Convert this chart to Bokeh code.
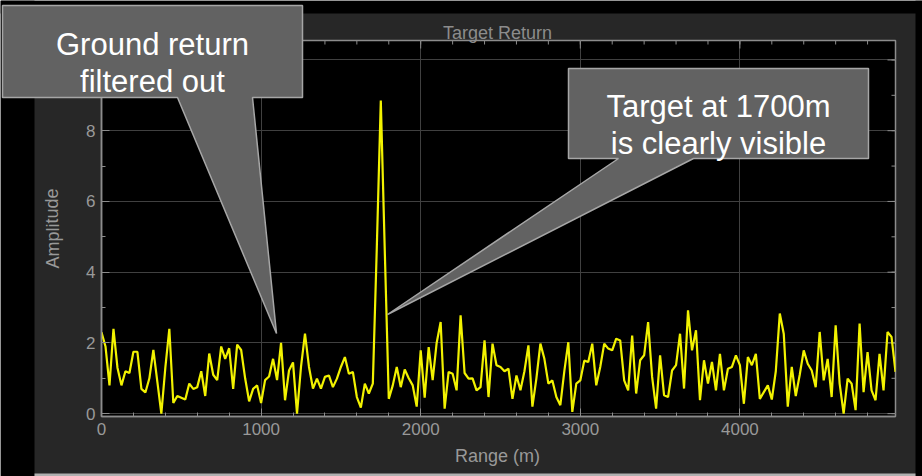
from bokeh.plotting import figure
from bokeh.models import FixedTicker, Range1d
from bokeh.core.properties import value
from bokeh.embed import file_html
from bokeh.resources import INLINE

# Matched-filter output after ground-clutter removal, one value per 25 m range bin
amplitude = [
    2.30, 1.90, 0.80, 2.40, 1.30, 0.80, 1.20, 1.15, 1.75, 1.75,
    0.70, 0.60, 1.00, 1.80, 0.90, 0.00, 1.30, 2.40, 0.30, 0.50,
    0.45, 0.40, 0.85, 0.70, 0.75, 1.20, 0.50, 1.70, 1.10, 0.95,
    1.90, 1.55, 1.85, 0.70, 1.95, 1.80, 1.00, 0.35, 0.70, 0.80,
    0.30, 0.95, 1.05, 1.55, 0.95, 2.00, 0.38, 1.22, 1.45, 0.00,
    1.32, 2.26, 1.32, 0.71, 0.99, 0.71, 1.04, 1.08, 0.75, 0.99,
    1.32, 1.60, 1.13, 1.18, 0.47, 0.17, 0.85, 0.57, 0.85, 4.70,
    8.85, 4.60, 0.42, 0.80, 1.32, 0.75, 1.25, 1.00, 0.80, 0.20,
    1.79, 0.45, 1.88, 0.95, 2.00, 2.59, 0.14, 1.18, 1.13, 0.66,
    2.78, 1.15, 0.99, 1.00, 0.66, 0.75, 2.07, 0.47, 1.98, 1.37,
    1.32, 1.20, 1.27, 0.42, 1.08, 0.66, 1.20, 1.93, 0.20, 1.00,
    1.98, 1.55, 0.85, 0.94, 0.47, 0.24, 1.20, 2.02, 0.05, 0.85,
    0.94, 1.50, 1.46, 1.98, 0.80, 1.32, 1.98, 1.84, 1.79, 2.12,
    2.07, 0.94, 0.66, 2.21, 0.57, 1.51, 1.65, 2.59, 1.04, 0.14,
    1.65, 0.52, 0.47, 1.22, 1.37, 2.26, 0.71, 2.92, 1.79, 2.36,
    0.38, 1.51, 0.85, 1.46, 0.66, 1.69, 0.66, 1.27, 1.32, 1.65,
    1.37, 0.28, 1.60, 1.37, 1.69, 0.42, 0.61, 0.80, 0.40, 1.20,
    2.83, 2.25, 0.20, 1.32, 0.50, 1.10, 1.79, 1.41, 1.22, 0.75,
    2.31, 0.94, 1.55, 0.47, 2.50, 0.85, 0.00, 0.99, 0.85, 0.10,
    2.55, 0.61, 1.74, 0.66, 0.38, 1.69, 0.66, 2.31, 2.17, 1.18,
]
BIN_M = 25
range_m = [i * BIN_M for i in range(len(amplitude))]

x_major_ticks = [0, 1000, 2000, 3000, 4000]
x_minor_ticks = list(range(0, 5000, 200))
y_major_ticks = [0, 2, 4, 6, 8, 10]
y_minor_ticks = list(range(0, 11))

title_text = "Target Return"
x_label_text = "Range (m)"
y_label_text = "Amplitude"
ground_note = ["Ground return", "filtered out"]
target_note = ["Target at 1700m", "is clearly visible"]

FONT = "Liberation Sans"
PANEL = "#272727"
AXIS_GREY = "#8c8c8c"
TEXT_GREY = "#999999"
GRID_GREY = "#404040"
CALLOUT_FILL = "#626262"
CALLOUT_EDGE = "#a6a6a6"

W, H = 922, 476
FRAME_L, FRAME_R, FRAME_T, FRAME_B = 101, 895, 40, 416
X_RANGE = (0, range_m[-1])
Y_RANGE = (-0.08, 10.55)
MAJOR_TICK, MINOR_TICK = 8, 4

# ---------------------------------------------------------------- chart
p = figure(width=W, height=H, output_backend="svg", toolbar_location=None,
           x_range=Range1d(*X_RANGE), y_range=Range1d(*Y_RANGE),
           min_border_left=FRAME_L, min_border_right=W - FRAME_R,
           min_border_top=FRAME_T, min_border_bottom=H - FRAME_B,
           background_fill_color="black", border_fill_color=PANEL,
           outline_line_color=AXIS_GREY, outline_line_width=1.5,
           styles={"position": "absolute", "left": "0px", "top": "0px"})

p.xgrid.ticker = FixedTicker(ticks=x_major_ticks)
p.ygrid.ticker = FixedTicker(ticks=y_major_ticks)
p.xgrid.grid_line_color = GRID_GREY
p.ygrid.grid_line_color = GRID_GREY

for ax, ticks, minor in [(p.xaxis[0], x_major_ticks, x_minor_ticks),
                         (p.yaxis[0], y_major_ticks, y_minor_ticks)]:
    ax.ticker = FixedTicker(ticks=ticks, minor_ticks=minor)
    ax.axis_line_color = AXIS_GREY
    ax.axis_line_width = 1.5
    ax.major_tick_line_color = AXIS_GREY
    ax.minor_tick_line_color = AXIS_GREY
    ax.major_tick_in = MAJOR_TICK
    ax.major_tick_out = 0
    ax.minor_tick_in = MINOR_TICK
    ax.minor_tick_out = 0
    ax.major_label_text_font = FONT
    ax.major_label_text_color = TEXT_GREY
    ax.major_label_text_font_size = "17px"
    ax.major_label_standoff = 6

# mirrored inward ticks along the top and right edges of the frame
px_per_y = (FRAME_B - FRAME_T) / (Y_RANGE[1] - Y_RANGE[0])
px_per_x = (FRAME_R - FRAME_L) / (X_RANGE[1] - X_RANGE[0])
y_top, x_right = Y_RANGE[1], X_RANGE[1]
for ticks, size in [(x_major_ticks, MAJOR_TICK), (x_minor_ticks, MINOR_TICK)]:
    p.segment(x0=ticks, x1=ticks, y0=[y_top] * len(ticks),
              y1=[y_top - size / px_per_y] * len(ticks),
              line_color=AXIS_GREY, line_width=1)
for ticks, size in [(y_major_ticks, MAJOR_TICK), (y_minor_ticks, MINOR_TICK)]:
    p.segment(x0=[x_right] * len(ticks), x1=[x_right - size / px_per_x] * len(ticks),
              y0=ticks, y1=ticks, line_color=AXIS_GREY, line_width=1)

p.line(range_m, amplitude, line_color="#f2f200", line_width=2.2)

# ------------------------------------------- panel surround, labels, callouts
# Drawn on a transparent canvas laid over the chart, in pixel coordinates.
o = figure(width=W, height=H, output_backend="svg", toolbar_location=None,
           x_range=Range1d(0, W), y_range=Range1d(H, 0),
           x_axis_location=None, y_axis_location=None, min_border=0,
           min_border_left=0, min_border_right=0, min_border_top=0,
           min_border_bottom=0, background_fill_color=None,
           border_fill_color=None, outline_line_color=None,
           styles={"position": "absolute", "left": "0px", "top": "0px"})
o.grid.visible = False

o.quad(left=[0, 915, 0], right=[34, W, W], top=[0, 0, 0], bottom=[H, H, 13],
       fill_color="black", line_color=None)
o.quad(left=[34], right=[915], top=[473], bottom=[H],
       fill_color="#b0b0b0", line_color=None)

o.text(x=[497], y=[32], text=[title_text], text_font=value(FONT),
       text_font_size="18px", text_color=AXIS_GREY, text_align="center",
       text_baseline="alphabetic")
o.text(x=[497], y=[455], text=[x_label_text], text_font=value(FONT),
       text_font_size="18px", text_color=TEXT_GREY, text_align="center",
       text_baseline="middle")
o.text(x=[52], y=[228], text=[y_label_text], text_font=value(FONT),
       text_font_size="18px", text_color=TEXT_GREY, text_align="center",
       text_baseline="middle", angle=1.5708)

callout_xs = [[2, 302, 302, 252, 276, 177, 2],
              [568, 868, 868, 693, 387, 618, 568]]
callout_ys = [[5, 5, 97, 97, 333, 97, 97],
              [68, 68, 158, 158, 314, 158, 158]]
o.patches(callout_xs, callout_ys, fill_color=CALLOUT_FILL, line_color=CALLOUT_EDGE,
          line_width=1.5)
note_x = [152, 152, 718, 718]
note_y = [44, 81, 106, 143]
o.text(x=note_x, y=note_y, text=ground_note + target_note, text_font=value(FONT),
       text_font_size="31px", text_color="white", text_align="center",
       text_baseline="alphabetic")

open("out.html", "w").write(file_html((p, o), INLINE))
